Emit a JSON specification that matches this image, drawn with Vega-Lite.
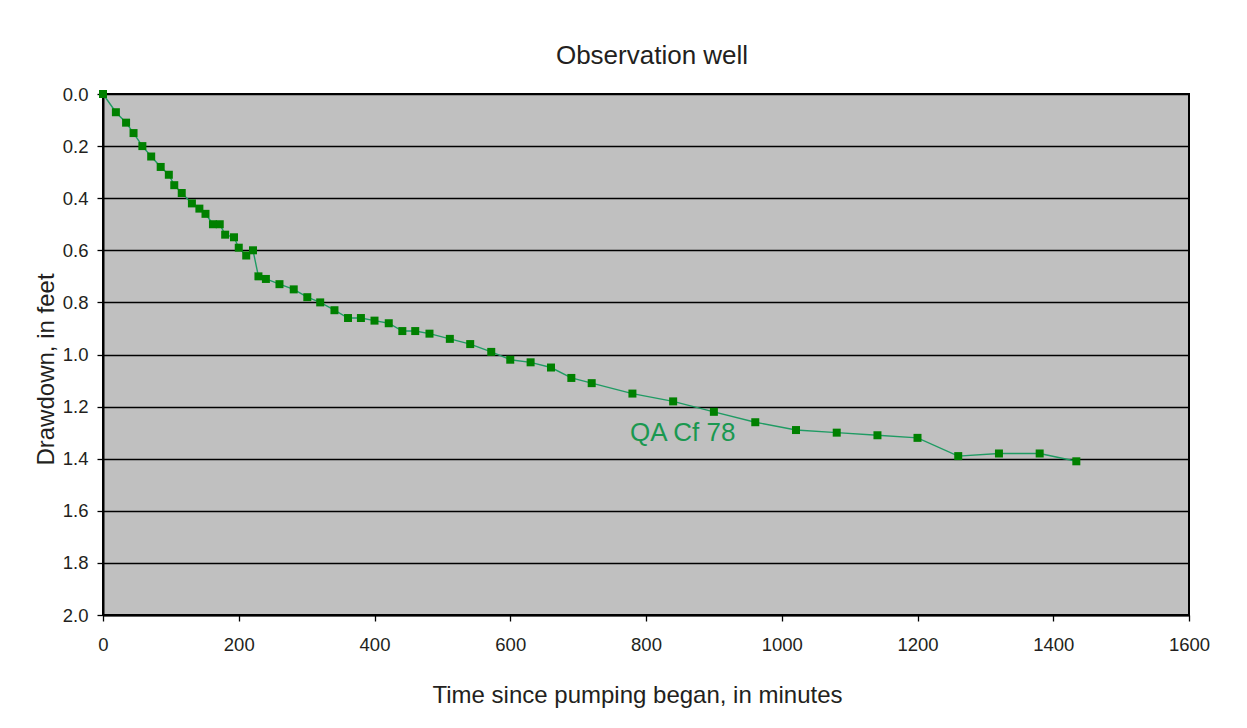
{
  "$schema": "https://vega.github.io/schema/vega-lite/v6.json",
  "width": 1086,
  "height": 521,
  "autosize": {"type": "none"},
  "padding": {"left": 103, "top": 94, "right": 58, "bottom": 113},
  "background": "white",
  "title": {
    "text": "Observation well",
    "font": "Liberation Sans",
    "fontSize": 26,
    "fontWeight": "normal",
    "color": "#231f20",
    "anchor": "middle",
    "frame": "group",
    "baseline": "alphabetic",
    "offset": -5,
    "dx": 6
  },
  "config": {
    "view": {"fill": "#c0c0c0", "stroke": "#000000", "strokeWidth": 2},
    "axis": {
      "labelFont": "Liberation Sans",
      "titleFont": "Liberation Sans",
      "labelFontSize": 18.5,
      "titleFontSize": 24,
      "labelColor": "#231f20",
      "titleColor": "#231f20",
      "titleFontWeight": "normal",
      "domainColor": "#000000",
      "domainWidth": 2,
      "tickColor": "#000000",
      "tickWidth": 1.3,
      "tickSize": 6,
      "labelFlush": false,
      "labelOverlap": false
    }
  },
  "datasets": {
    "well": [
      {"t": 0, "d": 0.0},
      {"t": 19, "d": 0.07},
      {"t": 34, "d": 0.11},
      {"t": 45, "d": 0.15},
      {"t": 58, "d": 0.2},
      {"t": 71, "d": 0.24},
      {"t": 85, "d": 0.28},
      {"t": 97, "d": 0.31},
      {"t": 105, "d": 0.35},
      {"t": 116, "d": 0.38},
      {"t": 131, "d": 0.42},
      {"t": 142, "d": 0.44},
      {"t": 151, "d": 0.46},
      {"t": 162, "d": 0.5},
      {"t": 172, "d": 0.5},
      {"t": 180, "d": 0.54},
      {"t": 193, "d": 0.55},
      {"t": 200, "d": 0.59},
      {"t": 211, "d": 0.62},
      {"t": 221, "d": 0.6},
      {"t": 229, "d": 0.7},
      {"t": 240, "d": 0.71},
      {"t": 260, "d": 0.73},
      {"t": 281, "d": 0.75},
      {"t": 301, "d": 0.78},
      {"t": 320, "d": 0.8},
      {"t": 341, "d": 0.83},
      {"t": 361, "d": 0.86},
      {"t": 380, "d": 0.86},
      {"t": 400, "d": 0.87},
      {"t": 421, "d": 0.88},
      {"t": 441, "d": 0.91},
      {"t": 460, "d": 0.91},
      {"t": 481, "d": 0.92},
      {"t": 511, "d": 0.94},
      {"t": 541, "d": 0.96},
      {"t": 572, "d": 0.99},
      {"t": 600, "d": 1.02},
      {"t": 630, "d": 1.03},
      {"t": 660, "d": 1.05},
      {"t": 690, "d": 1.09},
      {"t": 720, "d": 1.11},
      {"t": 780, "d": 1.15},
      {"t": 840, "d": 1.18},
      {"t": 900, "d": 1.22},
      {"t": 961, "d": 1.26},
      {"t": 1021, "d": 1.29},
      {"t": 1081, "d": 1.3},
      {"t": 1141, "d": 1.31},
      {"t": 1200, "d": 1.32},
      {"t": 1260, "d": 1.39},
      {"t": 1320, "d": 1.38},
      {"t": 1380, "d": 1.38},
      {"t": 1434, "d": 1.41}
    ],
    "label": [
      {"t": 854, "d": 1.3, "text": "QA Cf 78"}
    ]
  },
  "encoding": {
    "x": {
      "field": "t",
      "type": "quantitative",
      "scale": {"domain": [0, 1600], "nice": false, "zero": false},
      "axis": {
        "title": "Time since pumping began, in minutes",
        "values": [0, 200, 400, 600, 800, 1000, 1200, 1400, 1600],
        "format": "d",
        "grid": false,
        "labelPadding": 14,
        "titleX": 534,
        "titleY": 87,
        "titleBaseline": "alphabetic",
        "titleAnchor": null
      }
    },
    "y": {
      "field": "d",
      "type": "quantitative",
      "scale": {"domain": [0, 2], "reverse": true, "nice": false, "zero": false},
      "axis": {
        "title": "Drawdown, in feet",
        "values": [0, 0.2, 0.4, 0.6, 0.8, 1.0, 1.2, 1.4, 1.6, 1.8, 2.0],
        "format": ".1f",
        "grid": true,
        "gridColor": "#000000",
        "gridWidth": 1.3,
        "gridOpacity": 1,
        "labelPadding": 9,
        "titleAngle": -90,
        "titleX": -50,
        "titleY": 275,
        "titleAlign": "center",
        "titleBaseline": "alphabetic"
      }
    }
  },
  "layer": [
    {
      "data": {"name": "well"},
      "mark": {"type": "line", "color": "#1f9b63", "strokeWidth": 1.4, "clip": false},
      "encoding": {"order": {"field": "t", "type": "quantitative"}}
    },
    {
      "data": {"name": "well"},
      "mark": {"type": "point", "shape": "square", "filled": true, "size": 64, "color": "#008000", "opacity": 1, "clip": false}
    },
    {
      "data": {"name": "label"},
      "mark": {"type": "text", "font": "Liberation Sans", "fontSize": 26, "color": "#1a9850", "align": "center", "baseline": "middle"},
      "encoding": {"text": {"field": "text"}}
    }
  ]
}
